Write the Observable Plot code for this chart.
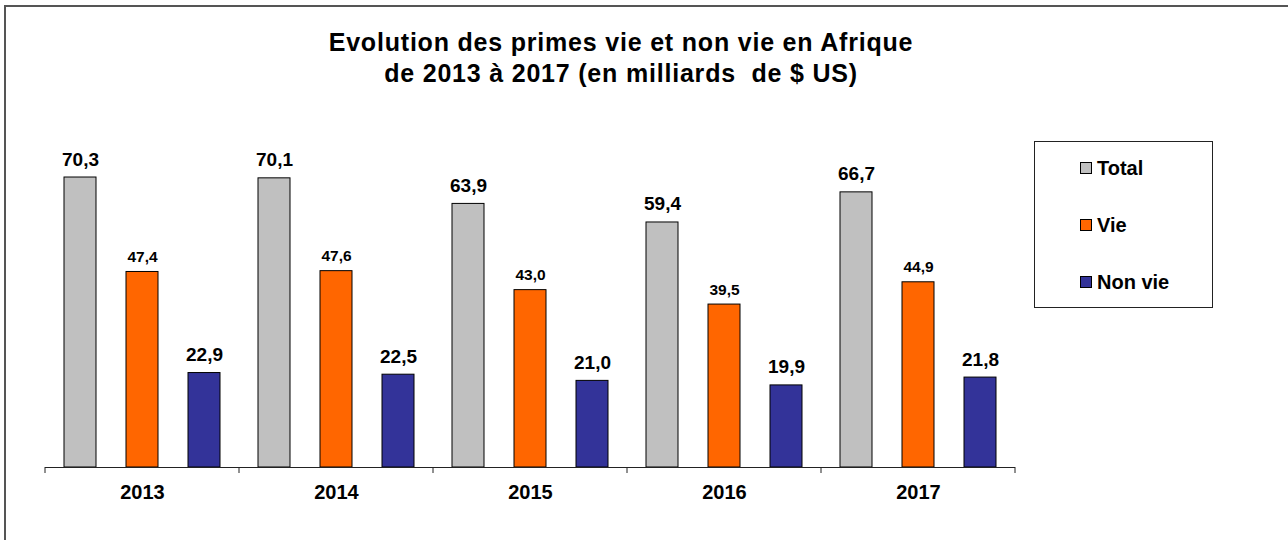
<!DOCTYPE html>
<html>
<head>
<meta charset="utf-8">
<script src="https://cdn.jsdelivr.net/npm/d3@7"></script>
<script src="https://cdn.jsdelivr.net/npm/@observablehq/plot@0.6"></script>
<style>
  html, body { margin: 0; padding: 0; background: #fff; overflow: hidden; }
  #wrap { position: relative; width: 1288px; height: 540px; overflow: hidden; font-family: "Liberation Sans", Arial, sans-serif; }
  #frame { position: absolute; left: 4px; top: 5px; width: 1300px; height: 560px; border-left: 2px solid #555; border-top: 2px solid #555; }
  #title { position: absolute; left: 321px; width: 600px; top: 27px; text-align: center; font-weight: bold; font-size: 25px; line-height: 31px; letter-spacing: 0.8px; white-space: pre; color: #000; }
  #chart { position: absolute; left: 0; top: 0; }
  #legend { position: absolute; left: 1034px; top: 141px; width: 177px; height: 165px; border: 1px solid #222; }
  .item { position: absolute; left: 45px; height: 24px; display: flex; align-items: center; font-weight: bold; font-size: 20px; color: #000; }
  .sw { width: 10px; height: 10px; border: 1px solid #000; margin-right: 5px; }
</style>
</head>
<body>
<div id="wrap">
  <div id="frame"></div>
  <div id="chart"></div>
  <div id="title"></div>
  <div id="legend"></div>
</div>
<script>
const titleLines = ["Evolution des primes vie et non vie en Afrique", "de 2013 à 2017 (en milliards  de $ US)"];
const years = ["2013", "2014", "2015", "2016", "2017"];
const series = ["Total", "Vie", "Non vie"];
const total = [70.3, 70.1, 63.9, 59.4, 66.7];
const vie = [47.4, 47.6, 43.0, 39.5, 44.9];
const nonVie = [22.9, 22.5, 21.0, 19.9, 21.8];
const colors = ["#c0c0c0", "#ff6600", "#333399"];

const seriesValues = [total, vie, nonVie];
const data = years.flatMap((yr, i) => series.map((s, j) => ({year: yr, series: s, value: seriesValues[j][i]})));
const fmt = v => d3.format(".1f")(v).replace(".", ",");

document.getElementById("title").textContent = titleLines.join("\n");

const plot = Plot.plot({
  width: 1288,
  height: 540,
  marginLeft: 45,
  marginRight: 273,
  marginTop: 137,
  marginBottom: 73,
  style: {fontFamily: "'Liberation Sans', Arial, sans-serif", background: "transparent", color: "#000"},
  fx: {domain: years, padding: 0, label: null},
  x: {domain: series, paddingInner: 0.488, paddingOuter: 0.296, axis: null},
  y: {domain: [0, 80], axis: null},
  color: {domain: series, range: colors},
  marks: [
    Plot.barY(data, {fx: "year", x: "series", y: "value", fill: "series", stroke: "#000", strokeWidth: 1}),
    Plot.ruleY([0], {stroke: "#222", strokeWidth: 1}),
    Plot.text(data.filter(d => d.series !== "Vie"), {fx: "year", x: "series", y: "value", text: d => fmt(d.value), dy: -12, lineAnchor: "bottom", fontSize: 19, fontWeight: "bold", fill: "#000"}),
    Plot.text(data.filter(d => d.series === "Vie"), {fx: "year", x: "series", y: "value", text: d => fmt(d.value), dy: -10, lineAnchor: "bottom", fontSize: 15.5, fontWeight: "bold", fill: "#000"}),
    Plot.axisFx({anchor: "bottom", tickSize: 0, tickPadding: 17, fontSize: 20, fontWeight: "bold", label: null})
  ]
});
document.getElementById("chart").appendChild(plot);

// boundary ticks between year groups, from the fx scale
const fx = plot.scale("fx");
const y = plot.scale("y");
const edges = fx.domain.map(v => fx.apply(v)).concat([fx.apply(fx.domain[fx.domain.length - 1]) + fx.bandwidth]);
const y0 = y.apply(0);
d3.select(plot).append("g")
  .selectAll("line").data(edges).join("line")
  .attr("x1", d => d).attr("x2", d => d)
  .attr("y1", y0).attr("y2", y0 + 6)
  .attr("stroke", "#222");

// legend
const legend = d3.select("#legend");
const rowTops = [14, 71, 128];
series.forEach((s, i) => {
  const it = legend.append("div").attr("class", "item").style("top", rowTops[i] + "px");
  it.append("div").attr("class", "sw").style("background", colors[i]);
  it.append("span").text(s);
});
</script>
</body>
</html>
